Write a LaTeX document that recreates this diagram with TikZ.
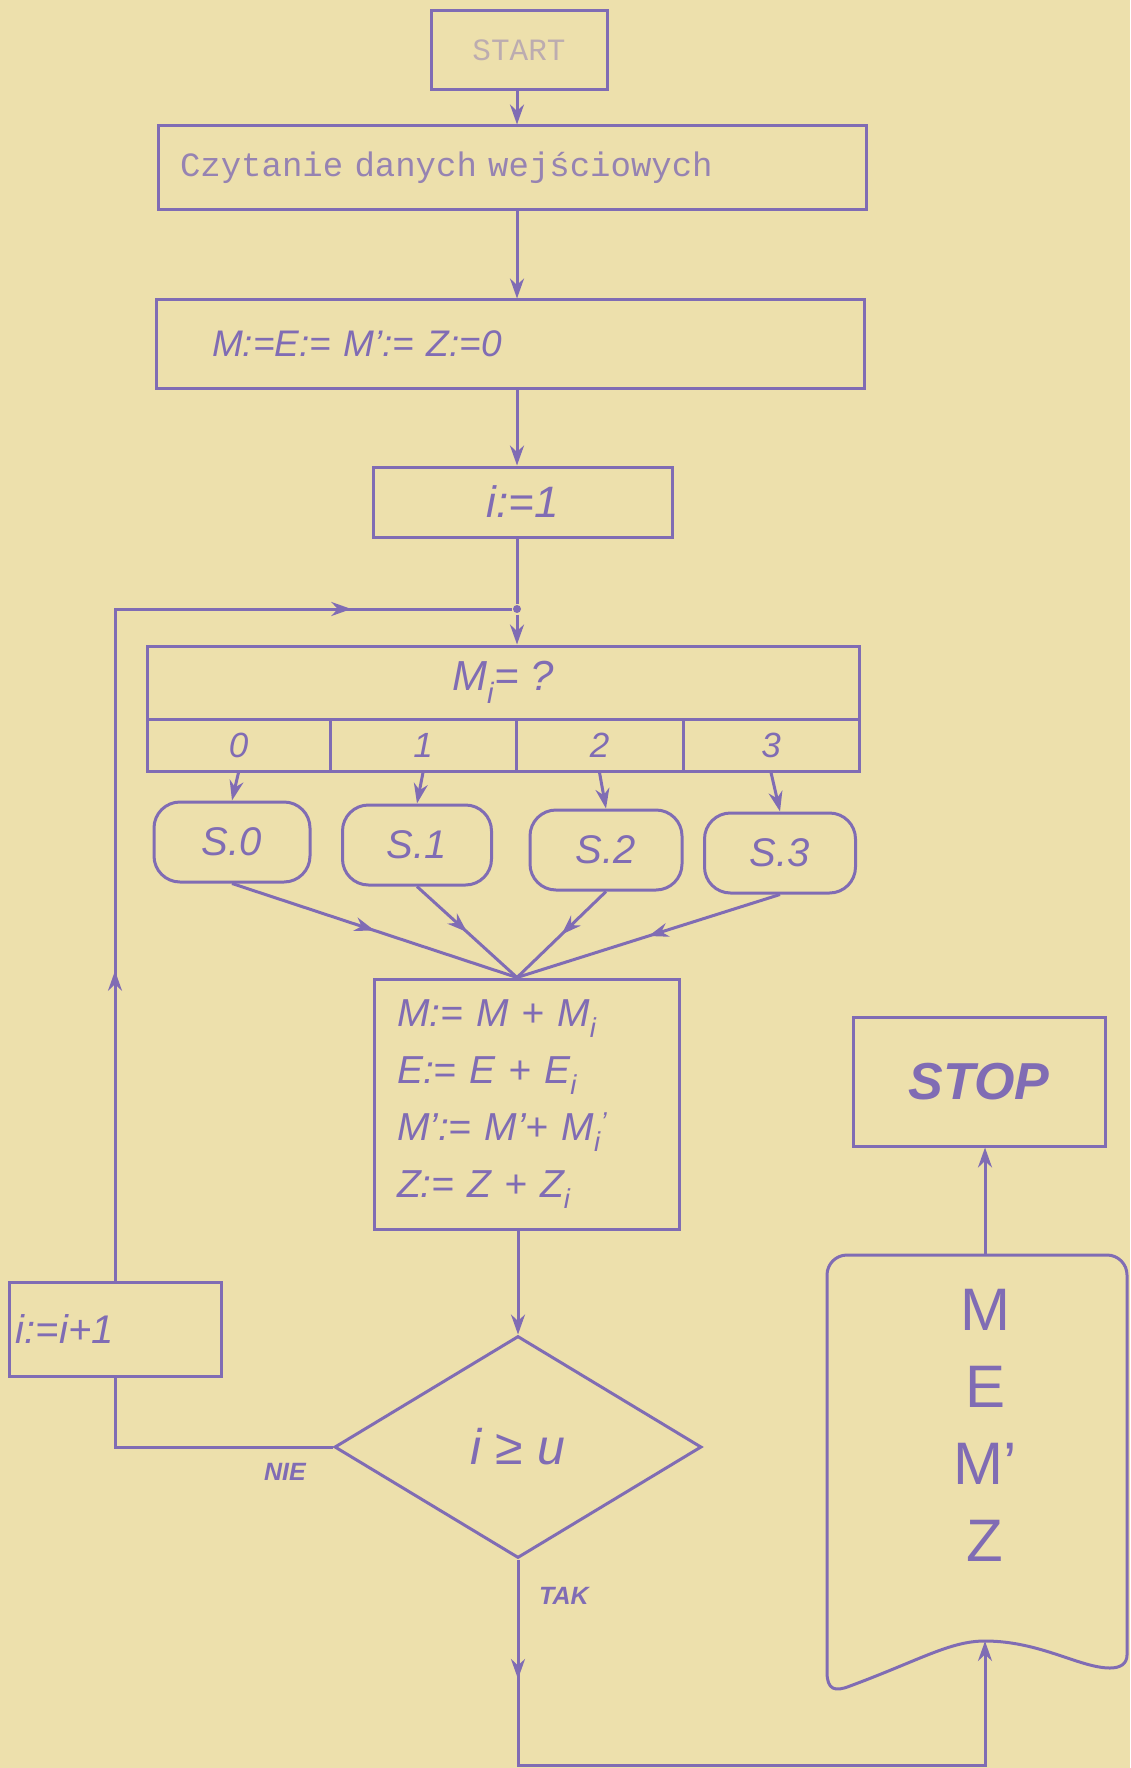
\documentclass[tikz,border=0pt]{standalone}
\usepackage{fontspec}
\setmainfont{Liberation Sans}
\setmonofont{Liberation Mono}
\usetikzlibrary{shapes.geometric, arrows.meta, decorations.markings}
\definecolor{paper}{RGB}{237,224,172}
\definecolor{ink}{RGB}{128,108,180}
\newcommand{\handfont}[1]{\fontsize{#1}{#1}\selectfont\itshape}

\begin{document}
\begin{tikzpicture}[x=1pt, y=-1pt, line width=3pt, color=ink,
        box/.style={rectangle, draw, inner sep=0pt},
        sbox/.style={box, rounded corners=26pt, minimum height=80pt, font=\handfont{40}},
        cell/.style={box, minimum height=52pt, font=\handfont{35}},
        cond/.style={diamond, draw, inner sep=0pt, minimum width=367pt, minimum height=222pt},
        arr/.style={-{Stealth[length=20pt, width=14pt]}},
        midarr/.style={postaction={decorate, decoration={markings, mark=at position #1 with {\arrow{Stealth[length=20pt, width=14pt]}}}}},
        lbl/.style={font=\handfont{25}\bfseries}
    ]
        \useasboundingbox (0,0) rectangle (1130,1768);
        \fill[paper] (0,0) rectangle (1130,1768);

        % Nodes
        \node[box, minimum width=176pt, minimum height=79pt, font=\fontsize{31}{31}\selectfont\ttfamily, text=ink!45!paper] (start) at (519,50) {START};
        \node[box, minimum width=708pt, minimum height=84pt, text width=664pt, inner xsep=22pt, align=left, font=\fontsize{34}{34}\selectfont\ttfamily, text=ink!80!paper] (read) at (512,168) {Czytanie danych wejściowych};
        \node[box, minimum width=708pt, minimum height=88pt, text width=596pt, inner xsep=56pt, align=left, font=\handfont{37}] (init) at (510,344) {M:=E:= M':= Z:=0};
        \node[box, minimum width=299pt, minimum height=70pt, font=\handfont{44}] (ione) at (523,502) {i:=1};
        \node[circle, fill, inner sep=0pt, minimum size=8pt] (junc) at (517,609) {};
        \node[box, minimum width=712pt, minimum height=73pt, font=\handfont{42}] (sw) at (503,682.5) {M\textsubscript{i}= ?};
        \node[cell, minimum width=183pt] (c0) at (238.5,745) {0};
        \node[cell, minimum width=186pt] (c1) at (423,745) {1};
        \node[cell, minimum width=167pt] (c2) at (599.5,745) {2};
        \node[cell, minimum width=176pt] (c3) at (771,745) {3};
        \node[sbox, minimum width=156pt] (s0) at (232,842) {S.0};
        \node[sbox, minimum width=149pt] (s1) at (417,845) {S.1};
        \node[sbox, minimum width=152pt] (s2) at (606,850) {S.2};
        \node[sbox, minimum width=151pt] (s3) at (780,853) {S.3};
        \node[box, minimum width=305pt, minimum height=250pt, text width=259pt, inner xsep=23pt, align=left, font=\fontsize{39}{57}\selectfont\itshape] (upd) at (526.5,1104) {M:= M + M\textsubscript{i}\\ E:= E + E\textsubscript{i}\\ M':= M'+ M\textsubscript{i}\textsuperscript{'}\\ Z:= Z + Z\textsubscript{i}};
        \node[cond, font=\handfont{50}] (dec) at (518,1447) {i ≥ u};
        \node[box, minimum width=212pt, minimum height=94pt, text width=198pt, inner xsep=7pt, align=left, font=\handfont{40}] (ipp) at (115,1329) {i:=i+1};
        \node[box, minimum width=252pt, minimum height=129pt, font=\fontsize{52}{52}\selectfont\bfseries\itshape] (stop) at (979,1081.5) {STOP};
        \node[align=center, font=\fontsize{60}{77}\selectfont] (outtxt) at (985,1425) {M\\E\\M'\\Z};
        \node[lbl] (nielbl) at (285,1472) {NIE};
        \node[lbl] (taklbl) at (564,1596) {TAK};

        % Output document
        \draw (1127,1655) -- (1127,1275) arc[start angle=0, end angle=-90, radius=20]
            -- (847,1255) arc[start angle=-90, end angle=-180, radius=20]
            -- (827,1672) .. controls (827,1690) and (835,1692) .. (850,1686)
            .. controls (920,1660) and (950,1641) .. (985,1641)
            .. controls (1040,1641) and (1080,1668) .. (1110,1668)
            .. controls (1120,1668) and (1127,1664) .. (1127,1655);
        \coordinate (outtop) at (985,1255);
        \coordinate (outin) at (985,1641);
        \coordinate (botl) at (518,1765);
        \coordinate (botr) at (985,1765);
        \coordinate (nie) at (ipp.south |- dec.west);
        \coordinate (loopup) at (ipp.north |- junc);
        \coordinate (merge) at (junc |- upd.north);

        % Arrows
        \draw[arr] (junc |- start.south) -- (junc |- read.north);
        \draw[arr] (junc |- read.south) -- (junc |- init.north);
        \draw[arr] (junc |- init.south) -- (junc |- ione.north);
        \draw (junc |- ione.south) -- (junc);
        \draw[arr] (junc) -- (junc |- sw.north);
        \foreach \i in {0,...,3}
            \draw[arr] (c\i.south) -- (s\i.north);
        \foreach \i in {0,...,3}
            \draw[midarr=0.5] (s\i.south) -- (merge);
        \draw[arr] (dec.north |- upd.south) -- (dec.north);
        \draw (dec.west) -- (nie) -- (ipp.south);
        \draw[midarr=0.29, midarr=0.85] (ipp.north) -- (loopup) -- (junc);
        \draw[midarr=0.15, arr] (dec.south) -- (botl) -- (botr) -- (outin);
        \draw[arr] (outtop) -- (outtop |- stop.south);
    \end{tikzpicture}
\end{document}
